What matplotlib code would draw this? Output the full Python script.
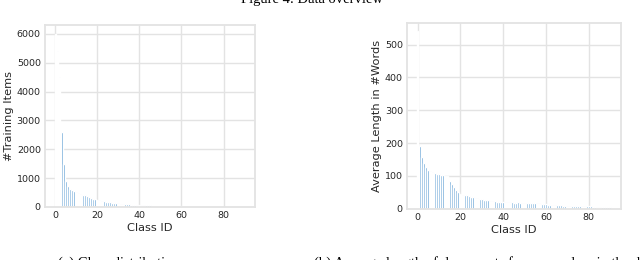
import matplotlib
matplotlib.use("Agg")
import matplotlib.pyplot as plt
import numpy as np

# ---- data ----
class_ids = list(range(91))
train_items = [6010, 5400, 4500, 2600, 1500, 900, 715, 640, 580, 540, 507, 475, 450, 425, 404,
               370, 340, 310, 285, 265, 250, 230, 215, 200, 185, 170, 160, 150, 140, 130, 122,
               115, 108, 102, 96, 90, 85, 80, 76, 72, 68, 64, 61, 58, 55, 52, 50, 48, 46, 44, 42,
               40, 38, 37, 36, 35, 34, 33, 32, 31, 30, 29, 28, 27, 26, 25, 24, 23, 22, 21, 20,
               20, 19, 19, 18, 18, 17, 17, 16, 16, 15, 15, 14, 14, 13, 13, 12, 12, 11, 11, 10]
avg_length = [540, 190, 157, 140, 126, 119, 115, 112, 109, 107, 105, 103, 102, 101, 100,
              85, 75, 67, 58, 50, 45, 43, 42, 41, 38, 37, 36, 34, 32, 31,
              29, 28, 27, 26, 25, 24, 23, 22, 22, 21, 20, 20, 20, 20, 20,
              19, 19, 20, 19, 18, 18, 18, 18, 18, 18, 18, 17, 18, 16, 15, 14, 13, 12,
              11, 11, 10, 10, 10, 9, 9, 9, 9, 8, 8, 8, 8, 8, 7, 7, 7, 7, 7, 6, 6, 6, 6, 5, 5, 5, 5, 5]
xticks = [0, 20, 40, 60, 80]
yticks_a = [0, 1000, 2000, 3000, 4000, 5000, 6000]
yticks_b = [0, 100, 200, 300, 400, 500]

BAR = "#5f9fd3"
GRID = "#e3e3e3"
TXT = "#262626"

fig = plt.figure(figsize=(6.4, 2.6), dpi=100)

def style(ax):
    ax.set_facecolor("white")
    ax.grid(True, color=GRID, linewidth=1.0)
    ax.set_axisbelow(True)
    for s in ax.spines.values():
        s.set_color(GRID)
        s.set_linewidth(1.3)
    ax.tick_params(length=0, labelsize=6.8, colors=TXT, pad=3)

ax1 = fig.add_axes([0.0703, 0.204, 0.328, 0.700])
ax1.bar(class_ids, train_items, width=0.8, color=BAR, edgecolor="white", linewidth=1.0)
ax1.set_xticks(xticks)
ax1.set_yticks(yticks_a)
ax1.set_ylim(0, max(train_items) * 1.05)
ax1.set_xlabel("Class ID", fontsize=8.2, color=TXT, labelpad=2)
ax1.set_ylabel("#Training Items", fontsize=8.2, color=TXT, labelpad=2)
style(ax1)

ax2 = fig.add_axes([0.636, 0.197, 0.334, 0.716])
ax2.bar(class_ids, avg_length, width=0.8, color=BAR, edgecolor="white", linewidth=1.0)
ax2.set_xticks(xticks)
ax2.set_yticks(yticks_b)
ax2.set_ylim(0, max(avg_length) * 1.05)
ax2.set_xlabel("Class ID", fontsize=8.2, color=TXT, labelpad=2)
ax2.set_ylabel("Average Length in #Words", fontsize=8.2, color=TXT, labelpad=2)
style(ax2)

serif = ["Liberation Serif", "DejaVu Serif"]
fig.text(0.487, 1.0, "Figure 4: Data overview", family=serif, fontsize=10.5,
         ha="center", va="center", color="black")
fig.text(0.09, 0.015, "(a) Class distribution", family=serif, fontsize=10.5,
         ha="left", va="top", color="black")
fig.text(0.49, 0.015, "(b) Average length of documents for every class in the dataset", family=serif,
         fontsize=10.5, ha="left", va="top", color="black")

fig.savefig("out.png", dpi=100)
